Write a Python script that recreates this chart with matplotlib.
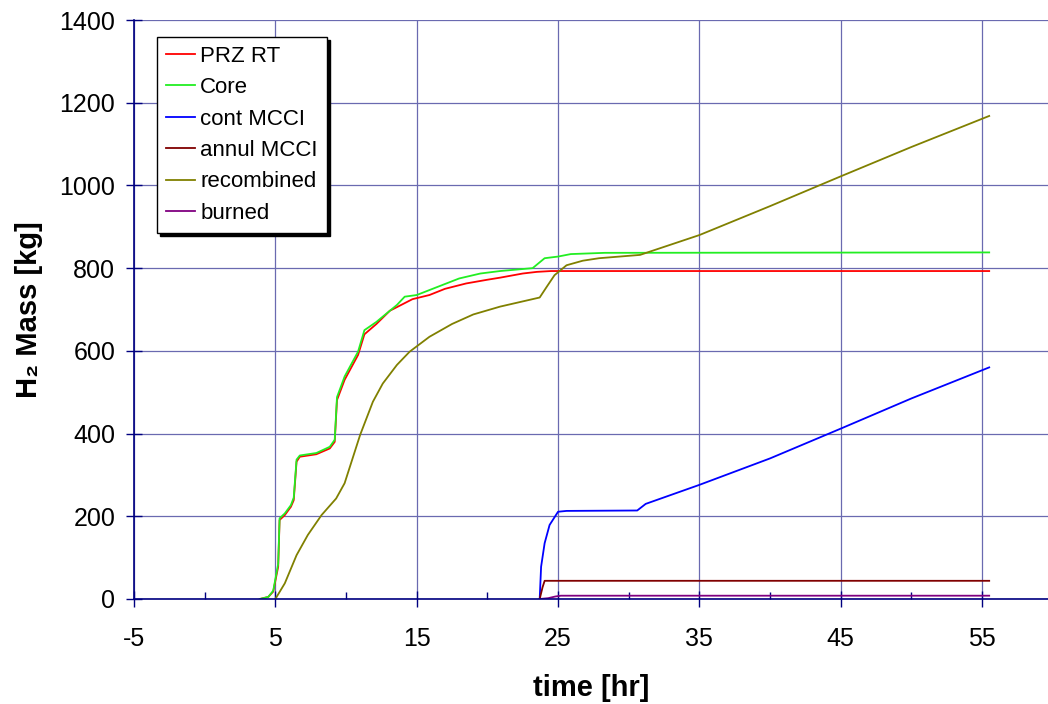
import numpy as np
import matplotlib
matplotlib.use('Agg')
import matplotlib.pyplot as plt
from matplotlib.ticker import MultipleLocator, FixedLocator

plt.rcParams['font.family'] = ['Liberation Sans', 'DejaVu Sans']
plt.rcParams['axes.unicode_minus'] = False

# 数据
t_prz = [3.9, 4.5, 4.85, 5.2, 5.3, 5.67, 6.1, 6.3, 6.5, 6.73, 7.9, 8.85, 9.2, 9.36, 9.9, 10.85, 11.3,
         12.15, 13.1, 14.7, 15.9, 17.0, 18.5, 20.0, 20.9, 22.5, 23.5, 24.5, 55.5]
m_prz = [0, 5, 18, 78, 191, 203, 223, 239, 332, 344, 350, 364, 380, 481, 530, 590, 640,
         665, 697, 725, 735, 750, 763, 772, 777, 787, 791, 793, 793]

t_core = [3.9, 4.5, 4.85, 5.2, 5.3, 5.67, 6.1, 6.3, 6.5, 6.73, 7.9, 8.85, 9.2, 9.36, 9.9, 10.85, 11.3,
          12.15, 12.5, 13.6, 14.15, 15.0, 15.9, 16.5, 18.0, 19.5, 20.9, 23.2, 24.05, 25.0, 25.9, 28.3, 55.5]
m_core = [0, 5, 20, 85, 195, 207, 227, 245, 337, 347, 353, 368, 385, 488, 538, 598, 650,
          670, 680, 711, 731, 735, 747, 755, 775, 787, 793, 800, 824, 828, 834, 837, 838]

t_cont = [23.7, 23.8, 24.05, 24.4, 25.0, 25.6, 30.6, 31.2, 35, 40, 45, 50, 55.5]
m_cont = [0, 78, 135, 179, 211, 213, 214, 230, 276, 340, 412, 485, 560]

t_annul = [23.7, 23.9, 24.05, 55.5]
m_annul = [0, 28, 44, 44]

t_recomb = [5.0, 5.67, 6.5, 7.3, 8.27, 9.3, 9.9, 11.0, 11.9, 12.6, 13.6, 14.5, 15.9, 17.5, 19.0, 20.9,
            23.7, 24.2, 24.75, 25.6, 26.75, 27.9, 30.8, 31.5, 35, 40, 45, 50, 55.5]
m_recomb = [0, 38, 106, 155, 203, 243, 280, 397, 477, 521, 566, 598, 634, 665, 688, 707,
            729, 755, 783, 807, 818, 824, 832, 840, 880, 950, 1022, 1093, 1168]

t_burned = [23.7, 24.3, 24.8, 25.2, 55.5]
m_burned = [0, 2, 6, 8, 8]

series = [
    ('PRZ RT', t_prz, m_prz, '#ff0000'),
    ('Core', t_core, m_core, '#22ee22'),
    ('cont MCCI', t_cont, m_cont, '#0000ff'),
    ('annul MCCI', t_annul, m_annul, '#800000'),
    ('recombined', t_recomb, m_recomb, '#808000'),
    ('burned', t_burned, m_burned, '#800080'),
]

navy = '#000080'

fig = plt.figure(figsize=(10.48, 7.04), dpi=100)
ax = fig.add_axes([134 / 1048, 105 / 704, 914 / 1048, 579 / 704])

for name, t, m, c in series:
    ax.plot(t, m, color=c, lw=1.3, label=name)

ax.set_xlim(-5, 59.66)
ax.set_ylim(0, 1400)
ax.xaxis.set_major_locator(FixedLocator([-5, 5, 15, 25, 35, 45, 55]))
ax.xaxis.set_minor_locator(FixedLocator([0, 10, 20, 30, 40, 50]))
ax.yaxis.set_major_locator(MultipleLocator(200))

ax.grid(True, which='major', color='#6a6ab0', lw=0.9)
for s in ['top', 'right']:
    ax.spines[s].set_visible(False)
for s in ['left', 'bottom']:
    ax.spines[s].set_color(navy)
    ax.spines[s].set_linewidth(1.2)

ax.tick_params(axis='both', which='major', direction='inout', length=11, width=1.0,
               color=navy, labelsize=18)
ax.tick_params(axis='y', which='major', pad=8)
ax.tick_params(axis='x', which='major', pad=15)
ax.tick_params(axis='x', which='minor', direction='in', length=5, width=1.0, color=navy)

ax.set_xlabel('time [hr]', fontsize=21, fontweight='bold', labelpad=16)
ax.set_ylabel('H₂ Mass [kg]', fontsize=21, fontweight='bold', labelpad=12)

leg = ax.legend(loc='upper left', bbox_to_anchor=(0.025, 0.971), borderaxespad=0,
                fontsize=16, handlelength=1.3, handletextpad=0.25, borderpad=0.4,
                labelspacing=0.47, fancybox=False, framealpha=1, edgecolor='black',
                shadow={'color': 'black', 'alpha': 1, 'ox': 2.5, 'oy': -2.5})
leg.get_frame().set_linewidth(1.0)

fig.savefig('out.png', dpi=100)
